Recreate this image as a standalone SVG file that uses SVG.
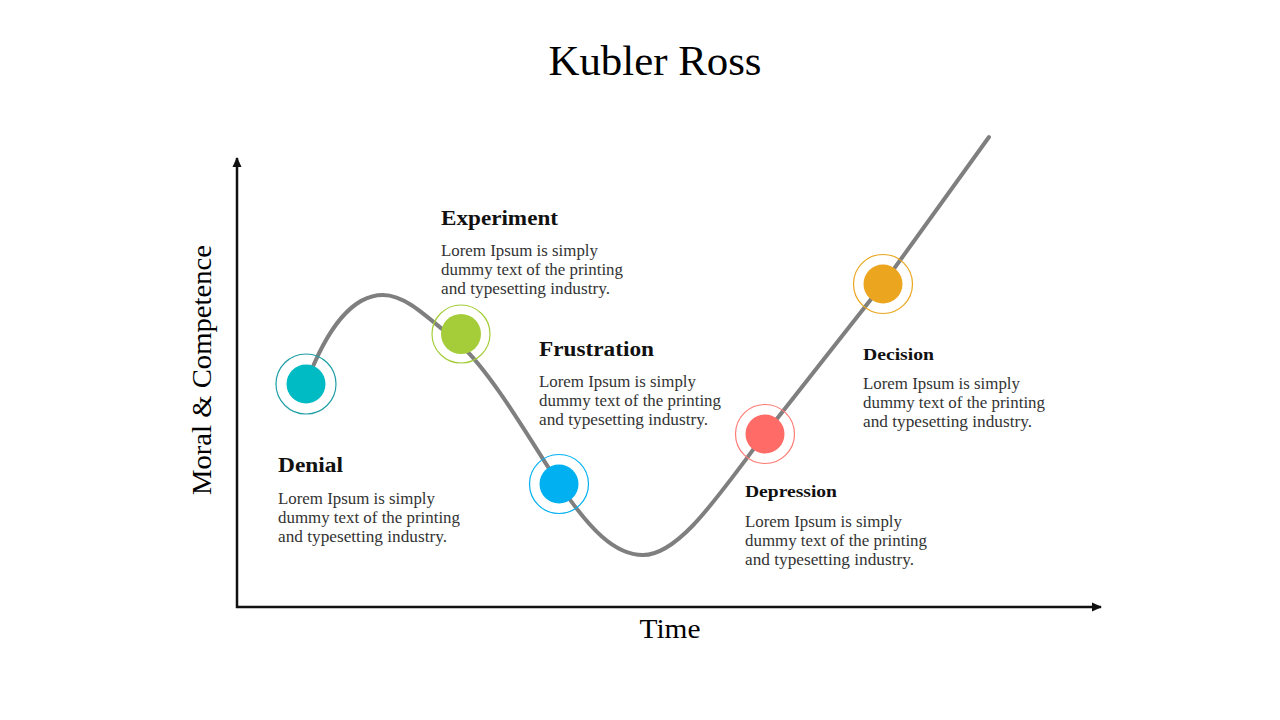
<svg xmlns="http://www.w3.org/2000/svg" width="1280" height="720" viewBox="0 0 1280 720">
  <defs>
    <marker id="arrow" markerWidth="11" markerHeight="11" refX="9" refY="5.5" orient="auto" markerUnits="userSpaceOnUse">
      <path d="M0,1 L10,5.5 L0,10 Z" fill="#111"/>
    </marker>
    <style>
      .title { font-family: "Liberation Serif", "Times New Roman", serif; font-size: 42px; fill: #000; }
      .axis-label { font-family: "Liberation Serif", "Times New Roman", serif; font-size: 28px; fill: #000; }
      .head { font-family: "Liberation Serif", "Times New Roman", serif; font-weight: bold; font-size: 20px; fill: #111; }
      .head-s { font-family: "Liberation Serif", "Times New Roman", serif; font-weight: bold; font-size: 17px; fill: #111; }
      .body { font-family: "Liberation Serif", "Times New Roman", serif; font-size: 16.5px; fill: #333; }
      .axis { stroke: #111; stroke-width: 2.5; fill: none; }
      .curve { stroke: #7f7f7f; stroke-width: 4; fill: none; stroke-linecap: round; stroke-linejoin: round; }
      .ring { fill: none; stroke-width: 1.2; }
    </style>
  </defs>
  <rect width="1280" height="720" fill="#fff"/>

  <text class="title" x="655" y="75" text-anchor="middle" textLength="213" lengthAdjust="spacingAndGlyphs">Kubler Ross</text>

  <g id="axes">
    <line class="axis" x1="237" y1="608" x2="237" y2="158" marker-end="url(#arrow)"/>
    <line class="axis" x1="236" y1="607" x2="1101" y2="607" marker-end="url(#arrow)"/>
    <text class="axis-label" x="670" y="638" text-anchor="middle" textLength="61" lengthAdjust="spacingAndGlyphs">Time</text>
    <text class="axis-label" transform="translate(211,370) rotate(-90)" x="0" y="0" text-anchor="middle" textLength="250" lengthAdjust="spacingAndGlyphs">Moral &amp; Competence</text>
  </g>

  <g id="connectors">
    <path class="curve" d="M306,384 C326,330 352,295 383,295 C405,295 425,315 461,345 C495,378 530,440 559,484 C590,530 615,555 643,555 C680,555 720,493 765,434 L883,284 L989,137"/>
  </g>

  <g id="denial">
    <circle class="ring" cx="306" cy="384" r="30" stroke="#1F9FA6"/>
    <circle cx="306" cy="384" r="19.5" fill="#00BBC3"/>
    <text class="head" x="278" y="472" textLength="65" lengthAdjust="spacingAndGlyphs">Denial</text>
    <text class="body" x="278" y="504" textLength="157" lengthAdjust="spacingAndGlyphs">Lorem Ipsum is simply</text>
    <text class="body" x="278" y="523" textLength="182" lengthAdjust="spacingAndGlyphs">dummy text of the printing</text>
    <text class="body" x="278" y="542" textLength="169" lengthAdjust="spacingAndGlyphs">and typesetting industry.</text>
  </g>

  <g id="experiment">
    <circle class="ring" cx="461" cy="334" r="29" stroke="#A4CD39"/>
    <circle cx="461" cy="334" r="20" fill="#A4CD39"/>
    <text class="head" x="441" y="225" textLength="117" lengthAdjust="spacingAndGlyphs">Experiment</text>
    <text class="body" x="441" y="256" textLength="157" lengthAdjust="spacingAndGlyphs">Lorem Ipsum is simply</text>
    <text class="body" x="441" y="275" textLength="182" lengthAdjust="spacingAndGlyphs">dummy text of the printing</text>
    <text class="body" x="441" y="294" textLength="169" lengthAdjust="spacingAndGlyphs">and typesetting industry.</text>
  </g>

  <g id="frustration">
    <circle class="ring" cx="559" cy="484" r="29.5" stroke="#00B0F0"/>
    <circle cx="559" cy="484" r="19.5" fill="#00B0F0"/>
    <text class="head" x="539" y="356" textLength="115" lengthAdjust="spacingAndGlyphs">Frustration</text>
    <text class="body" x="539" y="387" textLength="157" lengthAdjust="spacingAndGlyphs">Lorem Ipsum is simply</text>
    <text class="body" x="539" y="406" textLength="182" lengthAdjust="spacingAndGlyphs">dummy text of the printing</text>
    <text class="body" x="539" y="425" textLength="169" lengthAdjust="spacingAndGlyphs">and typesetting industry.</text>
  </g>

  <g id="depression">
    <circle class="ring" cx="765" cy="434" r="29.5" stroke="#FF7B75"/>
    <circle cx="765" cy="434" r="19.5" fill="#FF6B66"/>
    <text class="head-s" x="745" y="497" textLength="92" lengthAdjust="spacingAndGlyphs">Depression</text>
    <text class="body" x="745" y="527" textLength="157" lengthAdjust="spacingAndGlyphs">Lorem Ipsum is simply</text>
    <text class="body" x="745" y="546" textLength="182" lengthAdjust="spacingAndGlyphs">dummy text of the printing</text>
    <text class="body" x="745" y="565" textLength="169" lengthAdjust="spacingAndGlyphs">and typesetting industry.</text>
  </g>

  <g id="decision">
    <circle class="ring" cx="883" cy="284" r="29.5" stroke="#EBA51E"/>
    <circle cx="883" cy="284" r="19.5" fill="#EBA51E"/>
    <text class="head-s" x="863" y="360" textLength="71" lengthAdjust="spacingAndGlyphs">Decision</text>
    <text class="body" x="863" y="389" textLength="157" lengthAdjust="spacingAndGlyphs">Lorem Ipsum is simply</text>
    <text class="body" x="863" y="408" textLength="182" lengthAdjust="spacingAndGlyphs">dummy text of the printing</text>
    <text class="body" x="863" y="427" textLength="169" lengthAdjust="spacingAndGlyphs">and typesetting industry.</text>
  </g>
</svg>
